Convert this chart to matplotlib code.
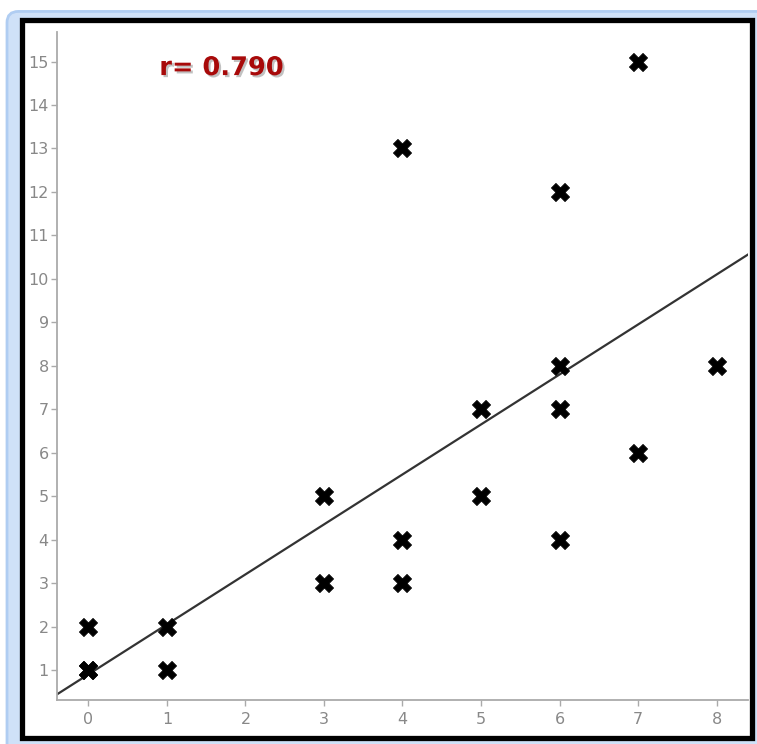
#!/usr/bin/env python3
"""Scatter with fitted line and correlation label"""
import numpy as np
import matplotlib
matplotlib.use('Agg')
import matplotlib.pyplot as plt
import matplotlib.patheffects as pe
from matplotlib.patches import Rectangle, FancyBboxPatch

# Data
x_vals = [0, 0, 0, 1, 1, 3, 3, 4, 4, 4, 5, 5, 6, 6, 6, 6, 7, 7, 8]
y_vals = [2, 1, 1, 2, 1, 5, 3, 13, 4, 3, 7, 5, 12, 8, 7, 4, 15, 6, 8]

# fitted line as drawn in the picture
line_intercept = 0.9
line_slope = 1.15
r_label = "r= 0.790"

x_ticks = list(range(0, 9))
y_ticks = list(range(1, 16))

W, H = 757, 744
fig = plt.figure(figsize=(W / 100, H / 100), dpi=100)
fig.patch.set_facecolor('white')

# light blue outer frame
fig.patches.append(FancyBboxPatch((7 / W, -0.02), (W + 20) / W, 1.01 - 4 / H,
                                  boxstyle="round,pad=0,rounding_size=0.015",
                                  transform=fig.transFigure, facecolor='#cfe1f8',
                                  edgecolor='#b0cdf2', linewidth=2, zorder=-3))
# black inner frame
fig.patches.append(Rectangle((22 / W, 6 / H), (752 - 22) / W, (724 - 6) / H,
                             transform=fig.transFigure, facecolor='white',
                             edgecolor='black', linewidth=3.8, zorder=-2))

ax = fig.add_axes([57 / W, 44 / H, (748 - 57) / W, (700 - 32) / H])
ax.set_facecolor('none')

xs = np.array([-0.4, 8.4])
ax.plot(xs, line_intercept + line_slope * xs, color='#333333', lw=1.6, zorder=2)
ax.scatter(x_vals, y_vals, marker='X', s=170, color='black', edgecolors='black',
           linewidths=0.6, zorder=3)

ax.set_xlim(-0.4, 8.4)
ax.set_ylim(0.31, 15.68)
ax.set_xticks(x_ticks)
ax.set_yticks(y_ticks)

for side in ['top', 'right']:
    ax.spines[side].set_visible(False)
for side in ['left', 'bottom']:
    ax.spines[side].set_color('#aaaaaa')
    ax.spines[side].set_linewidth(1.3)
ax.tick_params(colors='#aaaaaa', labelcolor='#888888', labelsize=11.5, length=4, width=1)
ax.tick_params(axis='x', pad=5)
ax.tick_params(axis='y', pad=2)

ax.text(0.148, 0.946, r_label, transform=ax.transAxes, color='#a80a0a',
        fontsize=18.5, fontweight='bold', va='center', ha='left',
        path_effects=[pe.withSimplePatchShadow(offset=(1.5, -1.5), shadow_rgbFace='#999999', alpha=0.6)])

fig.savefig('out.png', dpi=100)
